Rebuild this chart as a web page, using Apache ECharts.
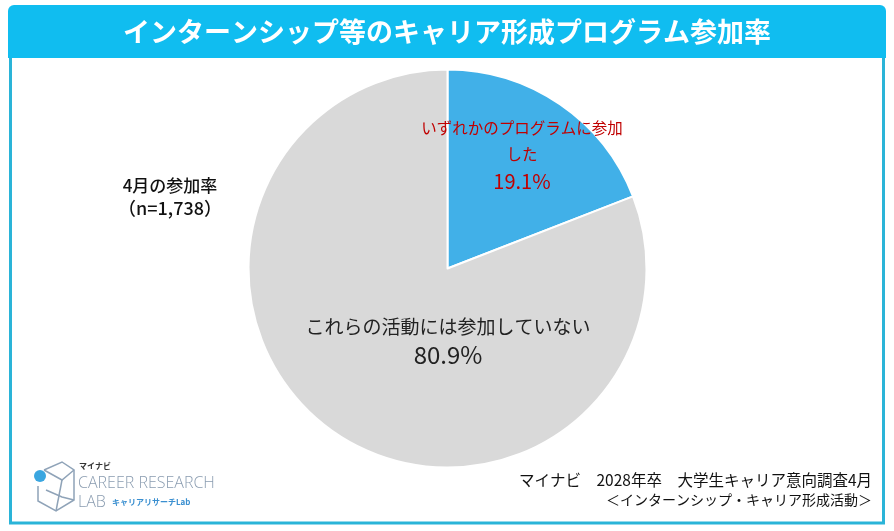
<!DOCTYPE html>
<html><head><meta charset="utf-8">
<script src="https://cdn.jsdelivr.net/npm/echarts@6/dist/echarts.min.js"></script>
<style>html,body{margin:0;padding:0;background:#fff}#c{width:894px;height:531px}</style>
</head><body><div id="c"></div>
<script>
const titleText = 'インターンシップ等のキャリア形成プログラム参加率';
const categories = ['いずれかのプログラムに参加\nした', 'これらの活動には参加していない'];
const values = [19.1, 80.9];
const colors = ['#41b0e8', '#d9d9d9'];
const labelColors = ['#c00000', '#222222'];
const noteLines = ['4月の参加率', '（n=1,738）'];
const sourceLines = ['マイナビ　2028年卒　大学生キャリア意向調査4月', '＜インターンシップ・キャリア形成活動＞'];
const FONT = '"Noto Sans CJK JP","Noto Sans",sans-serif';

const chart = echarts.init(document.getElementById('c'));
chart.setOption({
  backgroundColor: '#fff',
  animation: false,
  graphic: [
    { type: 'rect', shape: { x: 10.5, y: 50, width: 873, height: 473 }, style: { fill: '#fff', stroke: '#2ab4d8', lineWidth: 3 }, z: 0 },
    { type: 'rect', shape: { x: 8, y: 5, width: 878, height: 53, r: [6, 6, 0, 0] }, style: { fill: '#10bdf0' }, z: 1 },
    { type: 'text', x: 447, y: 32, style: { text: titleText, fill: '#fff', font: 'bold 27px ' + FONT, align: 'center', verticalAlign: 'middle' }, z: 2 },
    { type: 'text', x: 170, y: 186, style: { text: noteLines[0], fill: '#111', font: '500 17px ' + FONT, align: 'center', verticalAlign: 'middle' }, z: 2 },
    { type: 'text', x: 170, y: 208, style: { text: noteLines[1], fill: '#111', font: '500 18px ' + FONT, align: 'center', verticalAlign: 'middle' }, z: 2 },
    { type: 'text', x: 872, y: 480, style: { text: sourceLines[0], fill: '#111', font: '15.5px ' + FONT, align: 'right', verticalAlign: 'middle' }, z: 2 },
    { type: 'text', x: 872, y: 500, style: { text: sourceLines[1], fill: '#111', font: '14px ' + FONT, align: 'right', verticalAlign: 'middle' }, z: 2 },
    // logo
    { type: 'polyline', shape: { points: [[44,470],[62,462],[74,470],[74,500],[56,511],[38,501],[38,486]] }, style: { fill: null, stroke: '#8fa3b8', lineWidth: 1.5 }, z: 2 },
    { type: 'polyline', shape: { points: [[44,470],[62,480],[74,470]] }, style: { fill: null, stroke: '#8fa3b8', lineWidth: 1.5 }, z: 2 },
    { type: 'polyline', shape: { points: [[62,480],[56,511]] }, style: { fill: null, stroke: '#8fa3b8', lineWidth: 1.5 }, z: 2 },
    { type: 'polyline', shape: { points: [[46,490],[62,497],[74,500]] }, style: { fill: null, stroke: '#8fa3b8', lineWidth: 1.5 }, z: 2 },
    { type: 'circle', shape: { cx: 40, cy: 476, r: 6 }, style: { fill: '#3aa6e0' }, z: 3 },
    { type: 'text', x: 79, y: 466, style: { text: 'マイナビ', fill: '#333', font: 'bold 8px ' + FONT, verticalAlign: 'middle' }, z: 2 },
    { type: 'text', x: 78, y: 483, style: { text: 'CAREER RESEARCH', fill: '#8a9cb0', font: '300 16px "Open Sans",sans-serif', verticalAlign: 'middle' }, z: 2 },
    { type: 'text', x: 78, y: 502, style: { text: 'LAB', fill: '#8a9cb0', font: '300 16px "Open Sans",sans-serif', verticalAlign: 'middle' }, z: 2 },
    { type: 'text', x: 112, y: 502, style: { text: 'キャリアリサーチLab', fill: '#3a8fd0', font: 'bold 8px ' + FONT, verticalAlign: 'middle' }, z: 2 }
  ],
  series: [{
    type: 'pie',
    center: [447.5, 268.5],
    radius: 199,
    startAngle: 90,
    clockwise: true,
    z: 5,
    itemStyle: { borderColor: '#fff', borderWidth: 2 },
    emphasis: { disabled: true },
    data: categories.map((c, i) => ({
      name: c, value: values[i],
      itemStyle: { color: colors[i] },
      label: {
        color: labelColors[i],
        formatter: '{t|{b}}\n{p|{c}%}',
        rich: i === 0 ? {
          t: { fontSize: 15.5, lineHeight: 26, color: labelColors[i], fontFamily: FONT },
          p: { fontSize: 20, lineHeight: 28, color: labelColors[i], fontFamily: FONT }
        } : {
          t: { fontSize: 19, lineHeight: 26, color: labelColors[i], fontFamily: FONT },
          p: { fontSize: 24, lineHeight: 30, color: labelColors[i], fontFamily: FONT }
        }
      }
    })),
    label: { show: true, position: 'inside', align: 'center' },
    labelLine: { show: false },
    labelLayout: function (p) {
      return p.dataIndex === 0 ? { x: 522, y: 155, align: 'center', verticalAlign: 'middle' } : { x: 448, y: 342, align: 'center', verticalAlign: 'middle' };
    }
  }]
});
</script></body></html>
